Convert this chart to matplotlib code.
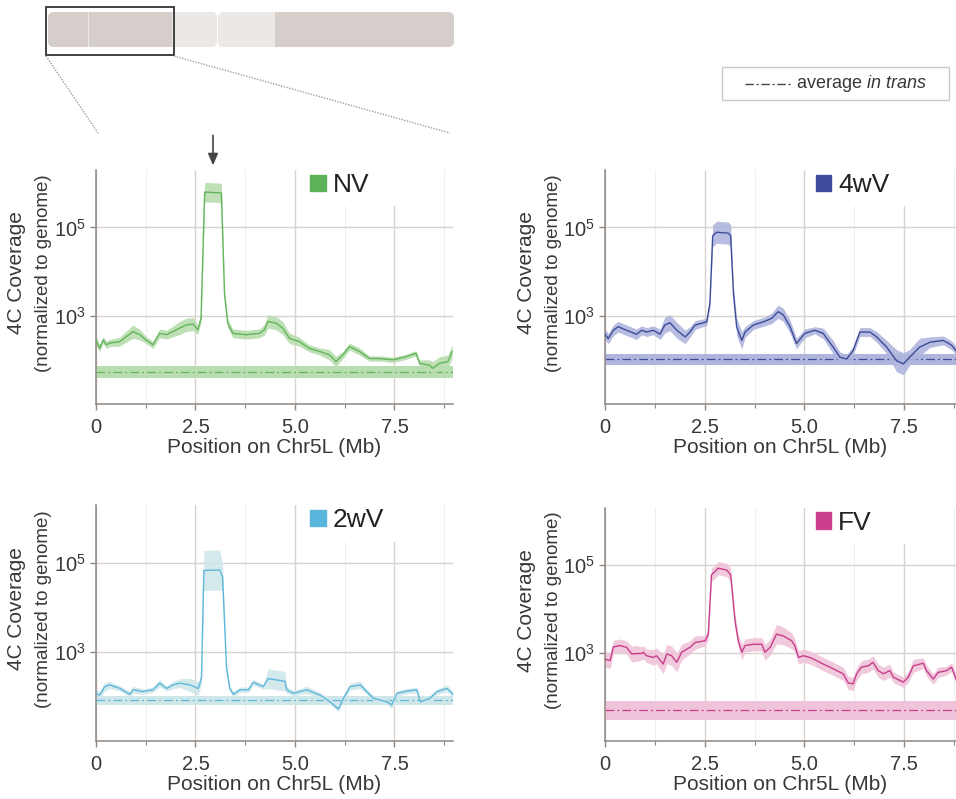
import numpy as np
import matplotlib
matplotlib.use("Agg")
import matplotlib.pyplot as plt
from matplotlib.patches import Patch, Rectangle, FancyBboxPatch

plt.rcParams["font.family"] = ["Liberation Sans", "DejaVu Sans"]
plt.rcParams["mathtext.fontset"] = "custom"
plt.rcParams["mathtext.rm"] = "Liberation Sans"
plt.rcParams["mathtext.it"] = "Liberation Sans:italic"

TEXT = "#383838"
SPINE = "#8e8783"
GRID = "#d8d2cf"

# ---- data (position in Mb, coverage as log10, band half-width in log10) ----
nv_pos = [0.00, 0.09, 0.18, 0.26, 0.34, 0.59, 0.93, 1.10, 1.26, 1.43, 1.60, 1.77, 1.93, 2.10,
          2.27, 2.44, 2.56, 2.64, 2.73, 3.15, 3.23, 3.31, 3.44, 3.77, 4.11, 4.23, 4.32, 4.53,
          4.69, 4.86, 5.11, 5.36, 5.62, 5.87, 6.03, 6.20, 6.37, 6.62, 6.87, 7.12, 7.46, 7.79,
          8.04, 8.13, 8.38, 8.46, 8.63, 8.84, 8.95]
nv_log10 = [2.45, 2.26, 2.45, 2.34, 2.38, 2.41, 2.64, 2.57, 2.45, 2.34, 2.60, 2.57, 2.64, 2.72,
            2.79, 2.81, 2.68, 2.95, 5.80, 5.78, 3.48, 2.83, 2.60, 2.57, 2.60, 2.68, 2.87, 2.83,
            2.72, 2.49, 2.41, 2.26, 2.19, 2.11, 1.96, 2.11, 2.30, 2.19, 2.03, 2.03, 2.00, 2.07,
            2.15, 1.92, 1.88, 1.81, 1.92, 1.96, 2.19]
nv_err = [0.10, 0.08, 0.08, 0.08, 0.08, 0.10, 0.15, 0.12, 0.08, 0.08, 0.10, 0.10, 0.12, 0.15,
          0.15, 0.15, 0.10, 0.10, 0.22, 0.22, 0.10, 0.10, 0.10, 0.10, 0.10, 0.12, 0.15, 0.15,
          0.15, 0.12, 0.10, 0.08, 0.08, 0.12, 0.12, 0.08, 0.08, 0.08, 0.06, 0.06, 0.06, 0.06,
          0.06, 0.08, 0.12, 0.15, 0.15, 0.15, 0.15]

w4_pos = [0.00, 0.08, 0.21, 0.33, 0.54, 0.79, 0.92, 1.04, 1.21, 1.38, 1.50, 1.63, 1.80, 2.01,
          2.13, 2.26, 2.55, 2.63, 2.70, 2.80, 3.09, 3.15, 3.22, 3.30, 3.43, 3.51, 3.72, 3.97,
          4.18, 4.34, 4.47, 4.64, 4.80, 5.01, 5.26, 5.47, 5.72, 5.89, 6.06, 6.22, 6.39, 6.64,
          6.81, 7.06, 7.31, 7.48, 7.64, 7.89, 8.15, 8.48, 8.69, 8.80]
w4_log10 = [2.58, 2.48, 2.67, 2.75, 2.67, 2.58, 2.67, 2.63, 2.67, 2.58, 2.79, 2.84, 2.67, 2.52,
            2.63, 2.79, 2.86, 3.28, 4.81, 4.89, 4.87, 4.81, 3.51, 2.75, 2.44, 2.63, 2.79, 2.86,
            2.94, 3.09, 3.02, 2.75, 2.37, 2.60, 2.67, 2.60, 2.29, 2.06, 2.02, 2.21, 2.63, 2.63,
            2.52, 2.29, 1.98, 1.91, 2.06, 2.29, 2.40, 2.44, 2.33, 2.21]
w4_err = [0.12, 0.12, 0.12, 0.12, 0.12, 0.12, 0.10, 0.10, 0.10, 0.12, 0.18, 0.18, 0.18, 0.15,
          0.12, 0.10, 0.08, 0.10, 0.25, 0.25, 0.25, 0.25, 0.15, 0.20, 0.20, 0.12, 0.10, 0.10,
          0.12, 0.15, 0.15, 0.15, 0.12, 0.10, 0.08, 0.12, 0.15, 0.12, 0.10, 0.10, 0.10, 0.10,
          0.12, 0.15, 0.25, 0.25, 0.18, 0.20, 0.12, 0.10, 0.10, 0.10]

w2_pos = [0.00, 0.09, 0.22, 0.34, 0.60, 0.85, 0.93, 1.18, 1.43, 1.60, 1.77, 1.94, 2.11, 2.36,
          2.57, 2.65, 2.71, 3.11, 3.18, 3.28, 3.36, 3.45, 3.62, 3.83, 3.95, 4.20, 4.33, 4.54,
          4.75, 4.79, 4.96, 5.29, 5.63, 5.88, 6.09, 6.22, 6.38, 6.64, 6.80, 6.97, 7.31, 7.43,
          7.56, 7.81, 8.06, 8.15, 8.39, 8.57, 8.82, 8.97]
w2_log10 = [2.07, 2.03, 2.22, 2.26, 2.18, 2.05, 2.15, 2.11, 2.15, 2.30, 2.18, 2.26, 2.30, 2.26,
            2.18, 2.41, 4.83, 4.84, 4.68, 2.64, 2.18, 2.05, 2.15, 2.15, 2.32, 2.22, 2.40, 2.37,
            2.34, 2.15, 2.07, 2.15, 2.03, 1.88, 1.72, 1.96, 2.22, 2.26, 2.11, 1.96, 1.88, 1.81,
            2.07, 2.12, 2.15, 1.88, 1.96, 2.11, 2.18, 2.05]
w2_err = [0.08, 0.08, 0.10, 0.08, 0.06, 0.06, 0.08, 0.06, 0.06, 0.08, 0.06, 0.08, 0.10, 0.15,
          0.15, 0.12, 0.45, 0.45, 0.30, 0.10, 0.06, 0.06, 0.06, 0.06, 0.06, 0.06, 0.22, 0.22,
          0.22, 0.08, 0.06, 0.08, 0.06, 0.06, 0.06, 0.06, 0.08, 0.08, 0.06, 0.06, 0.06, 0.08,
          0.06, 0.06, 0.06, 0.06, 0.06, 0.06, 0.08, 0.06]

fv_pos = [0.00, 0.13, 0.21, 0.38, 0.54, 0.67, 0.79, 0.92, 0.96, 1.04, 1.21, 1.29, 1.46, 1.55,
          1.67, 1.80, 1.92, 2.13, 2.26, 2.51, 2.59, 2.67, 2.84, 3.05, 3.15, 3.26, 3.34, 3.43,
          3.51, 3.72, 3.93, 4.01, 4.14, 4.30, 4.47, 4.68, 4.76, 4.85, 4.97, 5.14, 5.30, 5.47,
          5.64, 5.81, 5.97, 6.10, 6.22, 6.31, 6.43, 6.60, 6.72, 6.85, 6.98, 7.14, 7.23, 7.48,
          7.60, 7.73, 7.98, 8.06, 8.23, 8.35, 8.56, 8.69, 8.80]
fv_log10 = [2.86, 2.83, 3.14, 3.17, 3.13, 2.98, 2.99, 2.99, 3.02, 2.94, 2.90, 2.94, 2.75, 2.98,
            2.94, 2.79, 3.02, 3.13, 3.24, 3.28, 3.43, 4.78, 4.93, 4.89, 4.78, 3.73, 3.28, 3.02,
            3.17, 3.20, 3.20, 3.02, 3.13, 3.43, 3.39, 3.28, 3.17, 2.90, 2.94, 2.90, 2.83, 2.75,
            2.68, 2.60, 2.53, 2.32, 2.30, 2.53, 2.68, 2.71, 2.79, 2.60, 2.53, 2.60, 2.45, 2.34,
            2.45, 2.71, 2.77, 2.60, 2.41, 2.56, 2.60, 2.68, 2.41]
fv_err = [0.18, 0.18, 0.15, 0.15, 0.15, 0.18, 0.18, 0.15, 0.15, 0.15, 0.18, 0.18, 0.22, 0.22,
          0.22, 0.22, 0.18, 0.15, 0.15, 0.12, 0.12, 0.15, 0.15, 0.15, 0.15, 0.15, 0.15, 0.18,
          0.15, 0.15, 0.15, 0.18, 0.18, 0.22, 0.20, 0.18, 0.15, 0.15, 0.15, 0.15, 0.15, 0.15,
          0.15, 0.15, 0.15, 0.15, 0.15, 0.15, 0.15, 0.15, 0.15, 0.15, 0.15, 0.15, 0.12, 0.12,
          0.12, 0.15, 0.12, 0.12, 0.12, 0.12, 0.10, 0.10, 0.12]

# average in trans (log10) and its band half-width
trans_log10 = {"NV": 1.73, "4wV": 2.01, "2wV": 1.91, "FV": 1.70}
trans_err = {"NV": 0.13, "4wV": 0.12, "2wV": 0.11, "FV": 0.22}

samples = ["NV", "4wV", "2wV", "FV"]
line_colors = {"NV": "#62b55a", "4wV": "#3d4c98", "2wV": "#5db7da", "FV": "#c83d8a"}
band_colors = {"NV": "#b8ddb0", "4wV": "#b0b5de", "2wV": "#d0e7ea", "FV": "#efc3da"}
patch_colors = {"NV": "#5cb257", "4wV": "#3f4e9c", "2wV": "#5ab5dc", "FV": "#cc3f8c"}
x_max = {"NV": 8.97, "4wV": 8.8, "2wV": 8.97, "FV": 8.8}
viewpoint_mb = 2.94

series = {
    "NV": (nv_pos, nv_log10, nv_err),
    "4wV": (w4_pos, w4_log10, w4_err),
    "2wV": (w2_pos, w2_log10, w2_err),
    "FV": (fv_pos, fv_log10, fv_err),
}

W, H = 956, 799
fig = plt.figure(figsize=(W / 100, H / 100), dpi=100)

# overlay in pixel coordinates for the chromosome sketch and the shared legend
ov = fig.add_axes([0, 0, 1, 1])
ov.set_xlim(0, W)
ov.set_ylim(H, 0)
ov.axis("off")

dark, light = "#d5cecb", "#ece8e6"
chrom_arms = [(48, 217), (218, 454)]
chrom_bands = [(48, 88, dark), (89, 172, dark), (172, 217, light),
               (218, 275, light), (275, 454, dark)]
for x0, x1 in chrom_arms:
    arm = FancyBboxPatch((x0, 12), x1 - x0, 35, boxstyle="round,pad=0,rounding_size=6",
                         fc=light, ec="none")
    ov.add_patch(arm)
    for b0, b1, c in chrom_bands:
        if b0 >= x0 and b1 <= x1:
            r = Rectangle((b0, 12), b1 - b0, 35, fc=c, ec="none")
            ov.add_patch(r)
            r.set_clip_path(arm)
ov.add_patch(Rectangle((46, 7), 128, 48, fill=False, ec="#333333", lw=1.3))
ov.plot([46, 98], [56, 133], ls=(0, (1, 1)), color="#a59c97", lw=1)
ov.plot([174, 450], [56, 133], ls=(0, (1, 1)), color="#a59c97", lw=1)

ov.add_patch(Rectangle((722, 67), 227, 33, fill=False, ec="#cfcac7", lw=1))
ov.plot([745, 792], [84, 84], ls=(0, (6, 2, 1.5, 2)), color="#444444", lw=1)
ov.text(796, 84, r"average $\mathit{in\ trans}$", fontsize=13, color=TEXT, va="center")

positions = {
    "NV": [96 / W, 1 - 404 / H, 357 / W, 234 / H],
    "4wV": [605 / W, 1 - 404 / H, 351 / W, 234 / H],
    "2wV": [96 / W, 1 - 741 / H, 357 / W, 236 / H],
    "FV": [605 / W, 1 - 741 / H, 351 / W, 233 / H],
}

for name in samples:
    pos, lg, err = (np.array(a) for a in series[name])
    ax = fig.add_axes(positions[name])
    ax.set_yscale("log")
    ax.set_xlim(0, x_max[name])
    ax.set_ylim(10, 10 ** 6.3)
    ax.set_axisbelow(True)

    # average in trans
    t, te = trans_log10[name], trans_err[name]
    ax.axhspan(10 ** (t - te), 10 ** (t + te), color=band_colors[name], lw=0, zorder=1.5)
    ax.axhline(10 ** t, color=line_colors[name], lw=0.9, ls=(0, (7, 2.5, 1.5, 2.5)), zorder=1.6)

    ax.fill_between(pos, 10 ** (lg - err), 10 ** (lg + err), color=band_colors[name],
                    lw=0, alpha=0.9, zorder=2)
    ax.plot(pos, 10 ** lg, color=line_colors[name], lw=1.0, zorder=3)

    ax.set_xticks([0, 2.5, 5.0, 7.5])
    ax.set_xticklabels(["0", "2.5", "5.0", "7.5"])
    ax.set_xticks([1.25, 3.75, 6.25, 8.75], minor=True)
    ax.set_yticks([1e3, 1e5])
    ax.set_yticklabels([r"$\mathregular{10^3}$", r"$\mathregular{10^5}$"])
    ax.yaxis.set_minor_locator(matplotlib.ticker.NullLocator())
    ax.grid(True, which="major", color=GRID, lw=1.0)
    ax.grid(True, which="minor", axis="x", color="#f1eeed", lw=0.8)
    ax.tick_params(axis="both", which="major", labelsize=14.5, colors=TEXT,
                   length=4, width=1, color=SPINE)
    ax.tick_params(axis="x", which="major", pad=6)
    ax.tick_params(axis="x", which="minor", length=3, width=0.8, color=SPINE)
    for s in ["top", "right"]:
        ax.spines[s].set_visible(False)
    for s in ["left", "bottom"]:
        ax.spines[s].set_color(SPINE)
        ax.spines[s].set_linewidth(1.1)

    ax.set_xlabel("Position on Chr5L (Mb)", fontsize=15, color=TEXT, labelpad=1)
    ax.annotate("4C Coverage", xy=(0, 0.56), xycoords="axes fraction",
                xytext=(-79, 0), textcoords="offset pixels", rotation=90,
                ha="center", va="center", fontsize=15, color=TEXT)
    ax.annotate("(normalized to genome)", xy=(0, 0.56), xycoords="axes fraction",
                xytext=(-52, 0), textcoords="offset pixels", rotation=90,
                ha="center", va="center", fontsize=13.5, color=TEXT)

    # white box behind the sample legend hides the grid there
    ax.add_patch(Rectangle((0.58, 0.845), 0.33, 0.16, transform=ax.transAxes,
                           fc="white", ec="none", zorder=1, clip_on=False))
    ax.legend(handles=[Patch(color=patch_colors[name])], labels=[name],
              loc="center left", bbox_to_anchor=(0.6, 0.935), frameon=False,
              fontsize=19, handlelength=0.6, handleheight=0.6, handletextpad=0.25,
              borderpad=0, borderaxespad=0, labelcolor="#222222")

    if name == "NV":
        ax.annotate("", xy=(viewpoint_mb, 1.008), xycoords=("data", "axes fraction"),
                    xytext=(viewpoint_mb, 1.16), textcoords=("data", "axes fraction"),
                    arrowprops=dict(arrowstyle="-|>,head_length=0.7,head_width=0.3",
                                    color="#444444", lw=1.2))

fig.savefig("out.png", dpi=100)
